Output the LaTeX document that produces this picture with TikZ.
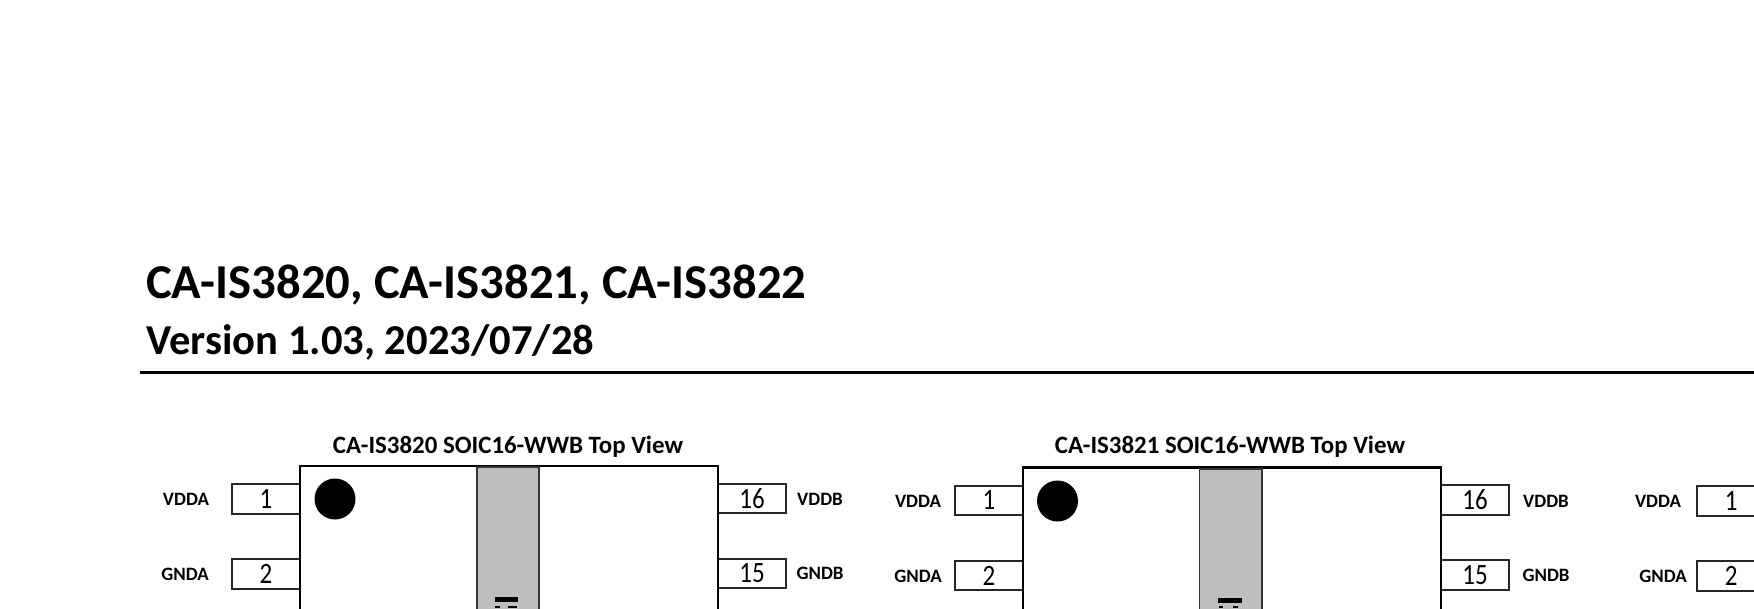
\documentclass[tikz,border=0pt]{standalone}
\usepackage{fontspec}
\setmainfont{Carlito}
\definecolor{stripgrey}{RGB}{190,190,190}
\newcommand{\pindigit}[1]{\scalebox{1}[1.18]{#1}}
\tikzset{
  x=1pt,y=-1pt,
  titlea/.style={anchor=west,inner sep=0pt,font=\fontsize{48.7}{49}\selectfont\bfseries},
  titleb/.style={anchor=west,inner sep=0pt,font=\fontsize{42.6}{43}\selectfont\bfseries},
  viewtitle/.style={inner sep=0pt,font=\fontsize{24.9}{25}\selectfont\bfseries},
  pinbox/.style={draw=black!85,line width=1.6pt,fill=white,minimum width=68pt,minimum height=29.5pt,inner sep=0pt,font=\fontsize{25}{25}\selectfont},
  pinname/.style={inner sep=0pt,font=\fontsize{18.9}{19}\selectfont\bfseries},
  body/.style={draw=black,line width=2.6pt},
  strip/.style={draw=black!80,line width=1.2pt,fill=stripgrey},
  dot/.style={circle,fill=black,minimum size=41pt,inner sep=0pt}
}
\begin{document}
\begin{tikzpicture}
\useasboundingbox (0,0) rectangle (1754,608);
\clip (0,0) rectangle (1754,608);
\fill[white] (0,0) rectangle (1754,608);
\node[titlea] (t1) at (146,285) {CA-IS3820, CA-IS3821, CA-IS3822};
\node[titleb] (t2) at (146,342.5) {Version 1.03, 2023/07/28};
\fill[black] (140,370.5) rectangle (1754,373.5);
% device 1
\node[viewtitle] (v1) at (508,446.5) {CA-IS3820 SOIC16-WWB Top View};
\node[pinbox] (a1) at (266,499) {\pindigit{1}};
\node[pinbox] (a2) at (266,574) {\pindigit{2}};
\node[pinbox] (a16) at (752,498.5) {\pindigit{16}};
\node[pinbox] (a15) at (752,573.5) {\pindigit{15}};
\draw[body,fill=white] (300,700) -- (300,466) -- (718,466) -- (718,700);
\draw[strip] (477,467) rectangle (539,700);
\node[dot] (ad) at (335,499) {};
\node[pinname] (al1) at (186,499) {VDDA};
\node[pinname] (al2) at (185,574) {GNDA};
\node[pinname] (al16) at (820,499) {VDDB};
\node[pinname] (al15) at (820,573) {GNDB};
\fill[black] (495,597) rectangle (518,602);
\fill[black] (495,606) rectangle (500,608);
\fill[black] (508,606) rectangle (517,608);
% device 2
\node[viewtitle] (v2) at (1230,446.5) {CA-IS3821 SOIC16-WWB Top View};
\node[pinbox] (b1) at (989,500.5) {\pindigit{1}};
\node[pinbox] (b2) at (989,575.5) {\pindigit{2}};
\node[pinbox] (b16) at (1475,500) {\pindigit{16}};
\node[pinbox] (b15) at (1475,575) {\pindigit{15}};
\draw[body,fill=white] (1023,700) -- (1023,467.5) -- (1441,467.5) -- (1441,700);
\draw[strip] (1199.5,469) rectangle (1262,700);
\node[dot] (bd) at (1057.5,501) {};
\node[pinname] (bl1) at (918,501) {VDDA};
\node[pinname] (bl2) at (918,576) {GNDA};
\node[pinname] (bl16) at (1546,501) {VDDB};
\node[pinname] (bl15) at (1546,575) {GNDB};
\fill[black] (1218,598) rectangle (1242,603);
\fill[black] (1219,606) rectangle (1223,608);
\fill[black] (1233,606) rectangle (1238,608);
% device 3
\node[pinbox,anchor=west] (c1) at (1696,501) {\hspace*{1pt}\pindigit{1}};
\node[pinbox,anchor=west] (c2) at (1696,576) {\hspace*{1pt}\pindigit{2}};
\node[pinname] (cl1) at (1658,501) {VDDA};
\node[pinname] (cl2) at (1663,576) {GNDA};
\end{tikzpicture}
\end{document}
